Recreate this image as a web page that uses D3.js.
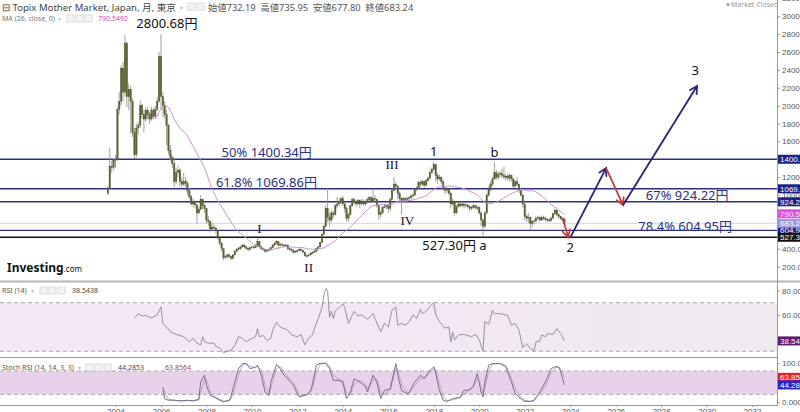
<!DOCTYPE html>
<html><head><meta charset="utf-8">
<script src="https://cdn.jsdelivr.net/npm/d3@7/dist/d3.min.js"></script>
<style>body{margin:0;background:#fff}svg{display:block}</style>
</head><body>
<svg id="c" width="800" height="412"></svg>
<script>
// ---------------- DATA ----------------
const startMonth = "2003-09"; // first monthly candle
const opens = [
1020,1080,1320,1310,
1390,1400,1960,2050,2420,2150,2700,2100,2180,2050,1700,1450,
1750,1780,2000,1900,1850,1950,1900,1850,1950,1880,1960,2050,
2550,2100,2000,1900,1780,1500,1420,1350,1150,1250,1280,1150,
1120,1150,1130,1050,980,900,920,890,800,840,950,880,
850,720,700,620,640,630,600,530,460,400,300,310,
330,310,290,330,370,390,400,420,440,420,400,390,
410,420,410,430,480,420,400,390,370,380,390,410,
440,460,480,440,450,440,430,440,400,390,380,360,
370,380,390,380,360,320,320,330,350,360,370,400,
420,470,560,650,850,750,720,800,780,880,900,920,
960,900,850,740,780,880,950,920,900,940,900,930,
900,920,950,970,930,960,950,880,780,800,860,870,
880,850,950,1050,1120,1100,1020,960,940,960,950,960,
970,990,1000,1060,1080,1140,1120,1150,1110,1160,1190,1250,
1290,1340,1220,1180,1200,1150,1080,1050,1070,1020,900,930,
800,870,900,880,900,880,890,870,850,860,880,860,
860,800,720,650,800,1000,1060,1120,1180,1250,1200,1230,
1240,1220,1200,1210,1190,1220,1180,1100,1150,1120,1050,1000,
900,760,740,750,680,700,710,740,750,720,750,740,
730,720,715,740,790,830,780,760,735,732.19];
const highs = [
1095,1530,1380,1410,
1450,1990,2150,2450,2490,2790,2720,2250,2220,2080,1750,1800,
1820,2060,2020,1950,1980,1990,1930,1990,1980,2000,2100,2600,
2800.68,2150,2050,1950,1800,1560,1450,1420,1300,1330,1300,1200,
1250,1200,1160,1080,1000,960,940,900,870,1000,960,900,
860,760,720,690,670,650,610,540,470,410,330,350,
345,320,340,380,410,420,430,455,450,430,410,420,
440,430,450,520,485,430,410,400,395,405,420,450,
470,500,485,465,460,450,455,445,410,400,390,380,
390,410,400,390,365,335,340,360,370,385,410,430,
480,570,670,890,1080,800,830,820,900,980,960,980,
990,920,870,800,890,970,975,940,960,950,960,950,
940,970,990,985,1060,1000,960,890,830,880,900,900,
890,970,1070,1200,1150,1110,1040,980,975,980,980,990,
1010,1020,1080,1100,1160,1170,1170,1160,1180,1210,1280,1310,
1370,1345,1250,1230,1210,1170,1100,1090,1080,1030,960,940,
890,920,920,930,910,910,900,880,880,900,890,880,
880,820,740,820,1020,1100,1150,1200,1370,1280,1260,1270,
1290,1320,1240,1230,1240,1230,1190,1170,1200,1130,1080,1010,
910,790,800,760,720,730,760,770,760,770,770,760,
745,740,760,800,850,840,790,770,750,735.95];
const lows = [
1000,1060,1250,1280,
1300,1380,1900,2000,2050,2100,1980,1950,1690,1650,1400,1420,
1680,1750,1850,1700,1820,1850,1800,1830,1850,1860,1940,2030,
1950,1870,1850,1560,1450,1380,1300,1090,1120,1200,1100,1080,
1100,1090,1000,950,880,870,850,680,780,830,840,800,
680,650,590,600,600,570,500,440,370,270,280,290,
295,275,280,320,360,380,385,410,405,390,370,380,
400,395,405,425,400,385,375,355,360,370,380,405,
430,455,390,425,425,420,420,380,370,365,345,350,
355,370,370,350,310,300,310,320,340,350,360,390,
415,460,550,640,700,640,700,740,770,850,870,900,
880,800,700,700,770,870,900,870,890,850,890,880,
880,910,940,910,920,930,860,720,750,790,850,840,
800,820,940,1040,1050,950,930,780,920,920,910,940,
950,970,990,1040,1070,1090,1100,1080,1100,1150,1170,1230,
1270,1150,1120,1160,1120,1050,1010,1020,1000,850,880,770,
790,860,860,870,850,860,850,820,830,850,840,830,
780,650,527.30,630,790,980,1040,1100,1170,1170,1170,1190,
1190,1180,1160,1160,1150,1150,1080,1090,1100,1020,980,860,
720,700,690,610,640,670,690,720,700,710,720,700,
700,700,700,730,780,760,740,720,700,677.80];
const closes = [
1080,1320,1310,1390,
1400,1960,2050,2420,2150,2700,2100,2180,2050,1700,1450,1750,
1780,2000,1900,1850,1950,1900,1850,1950,1880,1960,2050,2550,
2100,2000,1900,1780,1500,1420,1350,1150,1250,1280,1150,1120,
1150,1130,1050,980,900,920,890,800,840,950,880,850,
720,700,620,640,630,600,530,460,400,300,310,330,
310,290,330,370,390,400,420,440,420,400,390,410,
420,410,430,480,420,400,390,370,380,390,410,440,
460,480,440,450,440,430,440,400,390,380,360,370,
380,390,380,360,320,320,330,350,360,370,400,420,
470,560,650,850,750,720,800,780,880,900,920,960,
900,850,740,780,880,950,920,900,940,900,930,900,
920,950,970,930,960,950,880,780,800,860,870,880,
850,950,1050,1120,1100,1020,960,940,960,950,960,970,
990,1000,1060,1080,1140,1120,1150,1110,1160,1190,1250,1290,
1340,1220,1180,1200,1150,1080,1050,1070,1020,900,930,800,
870,900,880,900,880,890,870,850,860,880,860,860,
800,720,650,800,1000,1060,1120,1180,1250,1200,1230,1240,
1220,1200,1210,1190,1220,1180,1100,1150,1120,1050,1000,900,
760,740,750,680,700,710,740,750,720,750,740,730,
720,715,740,790,830,780,760,735,732.19,683.24];
const maPeriod = 26;

const rsiDates = ["2004-11","2005-01","2005-03","2005-05","2005-08","2005-11","2006-01","2006-02","2006-04","2006-06","2006-08","2006-10",
"2007-01","2007-03","2007-04","2007-06","2007-08","2007-10","2007-11","2007-12","2008-02","2008-05","2008-06","2008-08","2008-10","2008-12",
"2009-02","2009-04","2009-06","2009-08","2009-10","2010-01","2010-03","2010-04","2010-05","2010-07","2010-09","2010-11","2010-12",
"2011-02","2011-04","2011-06","2011-08","2011-10","2012-01","2012-03","2012-05","2012-07","2012-09","2012-10","2012-12",
"2013-02","2013-03","2013-04","2013-05","2013-06","2013-07","2013-08","2013-09","2013-11","2014-01","2014-02","2014-04","2014-07","2014-09","2014-11",
"2015-02","2015-05","2015-06","2015-09","2015-11","2016-01","2016-03","2016-05","2016-06","2016-08","2016-10","2016-12",
"2017-02","2017-04","2017-06","2017-07","2017-09","2017-11","2018-01","2018-02","2018-04","2018-07","2018-09","2018-10","2018-11","2018-12",
"2019-02","2019-05","2019-06","2019-09","2019-11","2020-01","2020-03","2020-04","2020-06","2020-08","2020-09","2020-12",
"2021-03","2021-04","2021-06","2021-08","2021-10","2021-12","2022-02","2022-04","2022-06","2022-07","2022-09","2022-10","2022-12",
"2023-01","2023-04","2023-06","2023-08","2023-10"];
const rsiValues = [57.4,61,59,59.5,57.4,60,66.5,52.7,50,46,44.7,43.4,
42,39,38,40.7,36.7,35.3,42,38,36.7,36.7,34,32.7,28.8,30,
30.8,35,42,40.7,38,40.5,42,48.6,42,43,39,40.7,47.4,
53.8,50,48.6,47.4,43.4,42,44,35.3,40.7,43.4,48.6,56.8,
66,76,81.5,80,58,63,57,63,66,69,66,53,63,59,60,
56.3,61,57,46,53,50,64,66.5,51.5,53,51.5,54,
60,57,64.6,61,63,67,70,60,54.5,49,50,37.7,46,39.5,
43.4,44,43.4,42,44,39.5,30,54.5,52,63.5,61,61,
60,59.5,51.5,53,47.4,33,36.3,32.3,30.8,37.7,38.5,43.4,42,
44.5,44,48.6,44.7,38.54];

const stochDates = ["2006-02","2006-03","2006-05","2006-08","2006-11","2007-03","2007-06","2007-09","2007-10","2007-12",
"2008-01","2008-03","2008-05","2008-08","2008-10","2009-01","2009-02","2009-04","2009-06","2009-08","2009-10","2009-12",
"2010-03","2010-04","2010-06","2010-08","2010-10","2010-11","2011-02","2011-04","2011-06","2011-08","2011-11",
"2012-01","2012-02","2012-04","2012-06","2012-08","2012-09","2012-11","2013-01","2013-04","2013-06","2013-08","2013-11",
"2014-01","2014-03","2014-05","2014-07","2014-10","2015-01","2015-02","2015-05","2015-07","2015-09","2015-11",
"2016-02","2016-05","2016-06","2016-08","2016-11","2016-12","2017-03","2017-06","2017-08","2017-10",
"2018-01","2018-02","2018-04","2018-06","2018-08","2018-11","2019-03","2019-05","2019-08","2019-10","2019-12",
"2020-02","2020-03","2020-04","2020-06","2020-08","2020-12","2021-03","2021-04","2021-06","2021-08","2021-11",
"2022-01","2022-04","2022-06","2022-07","2022-09","2022-12","2023-03","2023-05","2023-07","2023-08","2023-10"];
const stochK = [36.5,9,5,5,3,5,3,8,52,69,
43,17.5,13,5,1,5,17,52,86,99,99,86,
90,95,69,26,17.5,52,97,86,69,60,43,
21.6,13,17,20,30,47,95,100,100,86,56,56,
52,9,26,60,52,40,26,69,52,9,30,
34,99,70,30,22,25,52,69,60,75,
91,75,30,5,2,9,13,30,32,43,73,
26,13,52,95,99,99,91,78,52,22,9,
2,2,5,13,26,52,86,91,90,78,44.29];
const stochD = [40,25,8,5,4,4,4,5,25,60,
58,30,15,8,3,3,9,35,70,95,99,92,
88,92,82,45,22,35,85,92,78,65,50,
30,18,15,18,25,38,75,97,100,93,70,58,
55,25,18,45,56,45,33,55,60,25,20,
32,85,85,45,25,24,42,62,64,70,
85,82,48,15,4,6,11,22,31,38,60,
45,22,35,80,98,99,95,85,62,35,12,
5,2,4,8,20,42,75,88,91,85,63.86];

const priceTicks = [200,400,1000,1200,1600,1800,2000,2200,2400,2600,2800,3000,3200]; // 600, 800, 1400 hidden behind value boxes
const rsiTicks = [60,80];
const stochTicks = [0,100];
const yearTicks = [2004,2006,2008,2010,2012,2014,2016,2018,2020,2022,2024,2026,2028,2030,2032];

const fibLevels = [1400.34,1069.86,924.22,604.95];
const lowLevel = 527.30;
const lastClose = 683.24;
const maLast = 790.55;
const rsiLast = 38.543;
const stochKLast = 44.285, stochDLast = 63.856;

const annTexts  = ["2800.68円","50% 1400.34円","61.8% 1069.86円","67% 924.22円","78.4% 604.95円","527.30円 a"];
const annDates  = ["2004-12","2008-09","2008-06","2027-05","2027-01","2017-07"];
const annPrices = [2869,1431,1095,944,592,385];
const waveTexts  = ["I","II","III","IV","1","b","2","3"];
const waveDates  = ["2010-05","2012-07","2016-03","2016-11","2018-01","2020-09","2024-01","2029-07"];
const wavePrices = [570,139,1291,665,1437,1431,368,2343];
const arrowFromDates = ["2023-09","2024-01","2025-08","2026-05"];
const arrowToDates   = ["2023-12","2025-08","2026-05","2029-08"];
const arrowFromPrices = [745,520,1302,888];
const arrowToPrices   = [527.3,1302,888,2220];

// ---------------- CHART ----------------
const pm = d3.timeParse("%Y-%m");
const svg = d3.select("#c");
const R = 777; // plot right edge
const mainB = 281, rsiT = 282, rsiB = 357, stT = 358, stB = 405;
const x = d3.scaleTime().domain([new Date(2004,0,1), new Date(2032,0,1)]).range([115.5,752]);
const yP = d3.scaleLinear().domain([0,3000]).range([284.4,16.3]);
const yR = d3.scaleLinear().domain([30,70]).range([351.3,302.7]);
const yS = d3.scaleLinear().domain([0,100]).range([402.2,363.2]);
const SANS = "'Noto Sans','Noto Sans CJK JP',sans-serif";
const AX = "'Liberation Sans','DejaVu Sans',sans-serif";
const NAVY = "#2b3080";

const defs = svg.append("defs");
defs.append("clipPath").attr("id","cm").append("rect").attr("x",0).attr("y",0).attr("width",R).attr("height",mainB);
defs.append("clipPath").attr("id","cr").append("rect").attr("x",0).attr("y",rsiT).attr("width",R).attr("height",rsiB-rsiT);
defs.append("clipPath").attr("id","cs").append("rect").attr("x",0).attr("y",stT).attr("width",R).attr("height",stB-stT);
const g1 = defs.append("linearGradient").attr("id","rg");
g1.append("stop").attr("offset","0").attr("stop-color","#f5e6f5");
g1.append("stop").attr("offset","1").attr("stop-color","#efe9f0");

// ---- main panel ----
const gm = svg.append("g").attr("clip-path","url(#cm)");
gm.append("line").attr("x1",0).attr("x2",R).attr("y1",yP(lastClose)).attr("y2",yP(lastClose)).attr("stroke","#d8d8d8").attr("stroke-width",1);
fibLevels.forEach(v=>{
  gm.append("line").attr("x1",0).attr("x2",R).attr("y1",yP(v)).attr("y2",yP(v)).attr("stroke",NAVY).attr("stroke-width",1.4);
});
gm.append("line").attr("x1",0).attr("x2",R).attr("y1",yP(lowLevel)).attr("y2",yP(lowLevel)).attr("stroke","#111").attr("stroke-width",1.5);

// candles
const t0 = pm(startMonth);
const candles = closes.map((c,i)=>({d:d3.timeMonth.offset(t0,i),o:opens[i],h:highs[i],l:lows[i],c:c}));
gm.selectAll("line.w").data(candles).join("line").attr("class","w")
  .attr("x1",d=>x(d.d)).attr("x2",d=>x(d.d)).attr("y1",d=>yP(d.h)).attr("y2",d=>yP(d.l))
  .attr("stroke","#8c8c80").attr("stroke-width",0.8);
gm.selectAll("rect.b").data(candles).join("rect").attr("class","b")
  .attr("x",d=>x(d.d)-0.75).attr("width",1.5)
  .attr("y",d=>Math.min(yP(d.o),yP(d.c)))
  .attr("height",d=>Math.max(0.8,Math.abs(yP(d.o)-yP(d.c))))
  .attr("fill","#5e6534").attr("stroke","#444a22").attr("stroke-width",0.3);

// MA(26)
const ma = candles.map((d,i)=> i<maPeriod-1?null:{d:d.d,v:d3.mean(closes.slice(i-maPeriod+1,i+1))}).filter(Boolean);
gm.append("path").datum(ma).attr("fill","none").attr("stroke","#c993cf").attr("stroke-width",1)
  .attr("d",d3.line().x(d=>x(d.d)).y(d=>yP(d.v)));

// arrows
arrowFromDates.forEach((fd,i)=>{
  const x1=x(pm(fd)), y1=yP(arrowFromPrices[i]), x2=x(pm(arrowToDates[i])), y2=yP(arrowToPrices[i]);
  const col = arrowToPrices[i] < arrowFromPrices[i] ? "#c2403c" : "#23237a";
  gm.append("line").attr("x1",x1).attr("y1",y1).attr("x2",x2).attr("y2",y2).attr("stroke",col).attr("stroke-width",1.8);
  const ang = Math.atan2(y2-y1,x2-x1), L=8, a=0.5;
  const p = [[x2-L*Math.cos(ang-a), y2-L*Math.sin(ang-a)],[x2,y2],[x2-L*Math.cos(ang+a), y2-L*Math.sin(ang+a)]];
  gm.append("path").attr("d",d3.line()(p)).attr("fill","none").attr("stroke",col).attr("stroke-width",1.8).attr("stroke-linecap","round");
});

// annotation texts
annTexts.forEach((t,i)=>{
  gm.append("text").attr("x",x(pm(annDates[i]))).attr("y",yP(annPrices[i]))
    .attr("font-family",SANS).attr("font-size",13)
    .attr("fill", i===0||i===5 ? "#111" : NAVY).text(t);
});
waveTexts.forEach((t,i)=>{
  const roman = /^[IV]+$/.test(t);
  gm.append("text").attr("x",x(pm(waveDates[i]))).attr("y",yP(wavePrices[i])).attr("text-anchor","middle")
    .attr("font-family", roman ? "'Liberation Serif','DejaVu Serif',serif" : SANS)
    .attr("font-size", 13).attr("fill","#111").text(t);
});

// ---- RSI panel ----
const gr = svg.append("g").attr("clip-path","url(#cr)");
gr.append("rect").attr("x",0).attr("width",R).attr("y",yR(70)).attr("height",yR(30)-yR(70)).attr("fill","url(#rg)");
[70,30].forEach(v=>gr.append("line").attr("x1",0).attr("x2",R).attr("y1",yR(v)).attr("y2",yR(v))
  .attr("stroke","#aaa").attr("stroke-dasharray","4,3").attr("stroke-width",1));
gr.append("path").datum(rsiDates.map((d,i)=>({d:pm(d),v:rsiValues[i]})))
  .attr("fill","none").attr("stroke","#8f8598").attr("stroke-width",0.9)
  .attr("d",d3.line().x(d=>x(d.d)).y(d=>yR(d.v)));

// ---- Stoch RSI panel ----
const gs = svg.append("g").attr("clip-path","url(#cs)");
gs.append("rect").attr("x",0).attr("width",R).attr("y",yS(80)).attr("height",yS(20)-yS(80)).attr("fill","#e8d2ea");
[80,20].forEach(v=>gs.append("line").attr("x1",0).attr("x2",R).attr("y1",yS(v)).attr("y2",yS(v))
  .attr("stroke","#aaa").attr("stroke-dasharray","4,3").attr("stroke-width",1));
const sl = d3.line().x(d=>x(d.d)).y(d=>yS(d.v));
gs.append("path").datum(stochDates.map((d,i)=>({d:pm(d),v:stochD[i]})))
  .attr("fill","none").attr("stroke","#b8a2c0").attr("stroke-width",0.9).attr("d",sl);
gs.append("path").datum(stochDates.map((d,i)=>({d:pm(d),v:stochK[i]})))
  .attr("fill","none").attr("stroke","#6a6480").attr("stroke-width",0.9).attr("d",sl);

// ---- frame lines ----
svg.append("line").attr("x1",0).attr("x2",800).attr("y1",281.5).attr("y2",281.5).attr("stroke","#b5b5b5").attr("stroke-width",2);
svg.append("line").attr("x1",0).attr("x2",R).attr("y1",357.5).attr("y2",357.5).attr("stroke","#999").attr("stroke-width",1);
svg.append("line").attr("x1",0).attr("x2",R).attr("y1",405.5).attr("y2",405.5).attr("stroke","#999").attr("stroke-width",1);
svg.append("line").attr("x1",R+0.5).attr("x2",R+0.5).attr("y1",0).attr("y2",406).attr("stroke","#999").attr("stroke-width",1);

// ---- axes ----
function styleAxis(g){
  g.select(".domain").remove();
  g.selectAll(".tick line").attr("stroke","#999");
  g.selectAll(".tick text").attr("fill","#555").attr("font-family",AX).attr("font-size",8);
}
svg.append("g").attr("transform",`translate(${R},0)`)
  .call(d3.axisRight(yP).tickValues(priceTicks).tickSize(3).tickPadding(2).tickFormat(d3.format(".2f"))).call(styleAxis);
svg.append("g").attr("transform",`translate(${R},0)`)
  .call(d3.axisRight(yR).tickValues(rsiTicks).tickSize(3).tickPadding(2).tickFormat(d3.format(".4f"))).call(styleAxis);
svg.append("g").attr("transform",`translate(${R},0)`)
  .call(d3.axisRight(yS).tickValues(stochTicks).tickSize(3).tickPadding(2).tickFormat(d=>d===100?"100.000":"0.0000")).call(styleAxis);
svg.append("g").attr("transform",`translate(0,${stB})`)
  .call(d3.axisBottom(x).tickValues(yearTicks.map(y=>new Date(y,0,1))).tickSize(2).tickPadding(1).tickFormat(d3.timeFormat("%Y")))
  .call(styleAxis);

// ---- value boxes on the right axis ----
function box(y, t, bg, fg){
  svg.append("rect").attr("x",R+1).attr("y",y-4.5).attr("width",800-R).attr("height",9).attr("fill",bg);
  svg.append("text").attr("x",R+3).attr("y",y+3).attr("fill",fg).attr("font-family",AX).attr("font-size",8).text(t);
}
fibLevels.forEach(v=>box(yP(v), d3.format(".2f")(v), "#1d2185", "#fff"));
box(yP(maLast), d3.format(".2f")(maLast), "#e150e1", "#fde4fd");
box(yP(lastClose), d3.format(".2f")(lastClose), "#9d9ad8", "#fff");
box(yP(lowLevel), d3.format(".2f")(lowLevel), "#111", "#fff");
box(yR(rsiLast), d3.format(".3f")(rsiLast), "#5b1a6e", "#fff");
box(yS(stochDLast), d3.format(".3f")(stochDLast), "#e52424", "#fff");
box(yS(stochKLast), d3.format(".3f")(stochKLast), "#2424d8", "#fff");

// ---- header texts ----
function icons(x0, y0, n){
  for(let i=0;i<n;i++) svg.append("rect").attr("x",x0+i*9).attr("y",y0).attr("width",7).attr("height",7)
    .attr("fill","#f4f4f4").attr("stroke","#cfcfcf").attr("stroke-width",0.7);
}
svg.append("text").attr("x",2).attr("y",11).attr("font-family",SANS).attr("font-size",9.6).attr("fill","#444")
  .text("⊟ Topix Mother Market, Japan, 月, 東京");
svg.append("text").attr("x",180).attr("y",10).attr("font-family",SANS).attr("font-size",6).attr("fill","#bbb").text("▾");
icons(188,3,2);
svg.append("text").attr("x",208).attr("y",11).attr("font-family",SANS).attr("font-size",9.3).attr("fill","#555")
  .attr("xml:space","preserve").text("始値732.19  高値735.95  安値677.80  終値683.24");
svg.append("text").attr("x",2).attr("y",21).attr("font-family",SANS).attr("font-size",7).attr("fill","#777").text("MA (26, close, 0)");
svg.append("text").attr("x",58).attr("y",21).attr("font-family",SANS).attr("font-size",6).attr("fill","#bbb").text("▾");
icons(67,15,3);
svg.append("text").attr("x",98).attr("y",21).attr("font-family",SANS).attr("font-size",7).attr("fill","#c050c0").text("790.5492");
svg.append("circle").attr("cx",728).attr("cy",4.5).attr("r",1.5).attr("fill","#999");
svg.append("text").attr("x",731).attr("y",7).attr("font-family",SANS).attr("font-size",7).attr("fill","#9a9a9a").text("Market Closed");

// RSI / Stoch labels
svg.append("text").attr("x",2).attr("y",293).attr("font-family",SANS).attr("font-size",7).attr("fill","#555").text("RSI (14)");
svg.append("text").attr("x",31).attr("y",293).attr("font-family",SANS).attr("font-size",6).attr("fill","#bbb").text("▾");
icons(40,287,3);
svg.append("text").attr("x",72).attr("y",293).attr("font-family",SANS).attr("font-size",7).attr("fill","#444").text("38.5438");
svg.append("text").attr("x",2).attr("y",370).attr("font-family",SANS).attr("font-size",7).attr("fill","#555").text("Stoch RSI (14, 14, 3, 3)");
svg.append("text").attr("x",78).attr("y",370).attr("font-family",SANS).attr("font-size",6).attr("fill","#bbb").text("▾");
icons(86,364,3);
svg.append("text").attr("x",118).attr("y",370).attr("font-family",SANS).attr("font-size",7).attr("fill","#3a3a78").text("44.2853");
svg.append("text").attr("x",165).attr("y",370).attr("font-family",SANS).attr("font-size",7).attr("fill","#a04545").text("63.8564");

// Investing.com logo
const logo = svg.append("text").attr("x",7).attr("y",272).attr("font-family",SANS).attr("fill","#111");
logo.append("tspan").attr("font-size",12).attr("font-weight","bold").text("Investing");
logo.append("tspan").attr("font-size",8).text(".com");
</script>
</body></html>
